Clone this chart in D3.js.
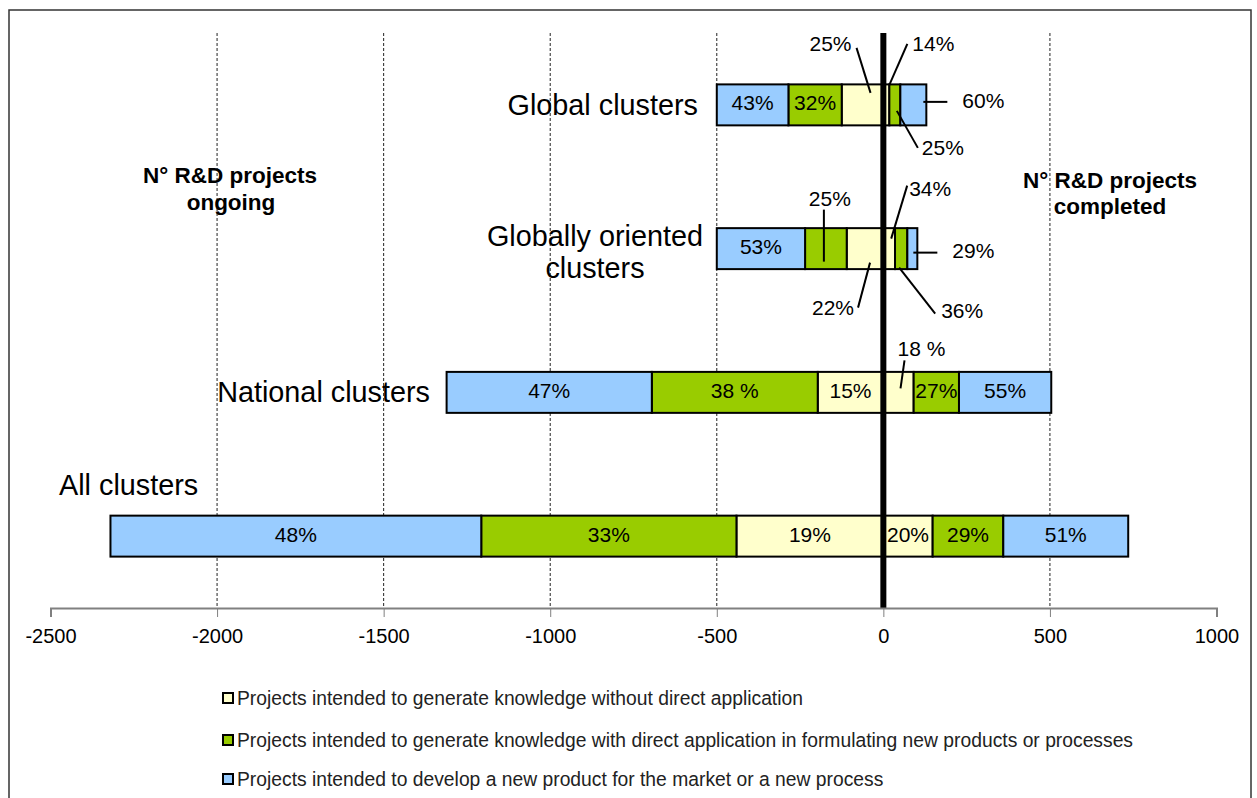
<!DOCTYPE html>
<html>
<head>
<meta charset="utf-8">
<script src="https://cdn.jsdelivr.net/npm/d3@7"></script>
<style>
  body { margin: 0; background: #fff; }
  svg { display: block; font-family: "Liberation Sans", Arial, sans-serif; }
</style>
</head>
<body>
<div id="chart"></div>
<script>
// chart data
var categories = ["Global clusters", "Globally oriented clusters", "National clusters", "All clusters"];
var seriesNames = [
  "Projects intended to generate knowledge without direct application",
  "Projects intended to generate knowledge with direct application in formulating new products or processes",
  "Projects intended to develop a new product for the market or a new process"
];
// ongoing projects (drawn to the left of zero), order: knowledge, applied, product
var ongoingKnowledge = [125, 110, 197, 441];
var ongoingApplied = [160, 125, 498, 766];
var ongoingProduct = [215, 265, 616, 1113];
// completed projects (drawn to the right of zero)
var completedKnowledge = [18, 35, 91, 148];
var completedApplied = [33, 37, 136, 212];
var completedProduct = [78, 30, 277, 375];
// percentage labels
var ongoingKnowledgePct = ["25%", "22%", "15%", "19%"];
var ongoingAppliedPct = ["32%", "25%", "38 %", "33%"];
var ongoingProductPct = ["43%", "53%", "47%", "48%"];
var completedKnowledgePct = ["14%", "34%", "18 %", "20%"];
var completedAppliedPct = ["25%", "36%", "27%", "29%"];
var completedProductPct = ["60%", "29%", "55%", "51%"];
var xTicks = [-2500, -2000, -1500, -1000, -500, 0, 500, 1000];

var colors = ["#FFFFCC", "#99CC00", "#99CCFF"];

var svgWidth = 1257;
var svgHeight = 798;

var svg = d3.select("#chart").append("svg")
  .attr("width", svgWidth)
  .attr("height", svgHeight);

// outer frame
svg.append("rect")
  .attr("x", 9).attr("y", 10)
  .attr("width", 1242).attr("height", 800)
  .attr("fill", "none")
  .attr("stroke", "#333")
  .attr("stroke-width", 1.5);

var plotTop = 33, plotBottom = 608;

var x = d3.scaleLinear().domain([-2500, 1000]).range([50.5, 1216.5]);
var y = d3.scaleBand().domain(categories).range([plotTop, plotBottom])
  .paddingInner(0.715).paddingOuter(0.3575);

// dashed gridlines
svg.append("g").selectAll("line")
  .data(xTicks.filter(function (d) { return d !== -2500 && d !== 0 && d !== 1000; }))
  .enter().append("line")
  .attr("x1", function (d) { return x(d); })
  .attr("x2", function (d) { return x(d); })
  .attr("y1", plotTop).attr("y2", plotBottom)
  .attr("stroke", "#222")
  .attr("stroke-width", 1)
  .attr("stroke-dasharray", "3,2");

// build the segments
var segments = [];
categories.forEach(function (c, i) {
  var left = [ongoingKnowledge[i], ongoingApplied[i], ongoingProduct[i]];
  var leftPct = [ongoingKnowledgePct[i], ongoingAppliedPct[i], ongoingProductPct[i]];
  var right = [completedKnowledge[i], completedApplied[i], completedProduct[i]];
  var rightPct = [completedKnowledgePct[i], completedAppliedPct[i], completedProductPct[i]];
  var acc = 0;
  left.forEach(function (v, k) {
    segments.push({ cat: c, side: "L", k: k, x0: -(acc + v), x1: -acc, pct: leftPct[k] });
    acc += v;
  });
  acc = 0;
  right.forEach(function (v, k) {
    segments.push({ cat: c, side: "R", k: k, x0: acc, x1: acc + v, pct: rightPct[k] });
    acc += v;
  });
});

svg.append("g").selectAll("rect")
  .data(segments)
  .enter().append("rect")
  .attr("x", function (d) { return x(d.x0); })
  .attr("y", function (d) { return y(d.cat); })
  .attr("width", function (d) { return x(d.x1) - x(d.x0); })
  .attr("height", y.bandwidth())
  .attr("fill", function (d) { return colors[d.k]; })
  .attr("stroke", "#000")
  .attr("stroke-width", 2);

// callouts for small segments: offsets (px) from the segment centre
var callouts = {
  "Global clusters|L|0": { a: [8, -12], b: [-6, -57], t: [-32, -61] },
  "Global clusters|R|0": { a: [3, -20], b: [21, -61], t: [47, -61] },
  "Global clusters|R|1": { a: [2, 6], b: [23, 43], t: [48, 43] },
  "Global clusters|R|2": { a: [10, -3], b: [34, -3], t: [70, -4] },
  "Globally oriented clusters|L|1": { a: [-2, 13], b: [-2, -39], t: [4, -50] },
  "Globally oriented clusters|L|0": { a: [5, 14], b: [-7, 59], t: [-32, 59] },
  "Globally oriented clusters|R|0": { a: [2, -10], b: [18, -63], t: [41, -60] },
  "Globally oriented clusters|R|1": { a: [-2, 19], b: [34, 65], t: [61, 62] },
  "Globally oriented clusters|R|2": { a: [1, 4], b: [25, 4], t: [61, 2] },
  "National clusters|R|0": { a: [2, -4], b: [6, -32], t: [23, -44] }
};

var labelGroup = svg.append("g");
segments.forEach(function (d) {
  var cx = (x(d.x0) + x(d.x1)) / 2;
  var cy = y(d.cat) + y.bandwidth() / 2;
  var co = callouts[d.cat + "|" + d.side + "|" + d.k];
  if (co) {
    labelGroup.append("line")
      .attr("x1", cx + co.a[0]).attr("y1", cy + co.a[1])
      .attr("x2", cx + co.b[0]).attr("y2", cy + co.b[1])
      .attr("stroke", "#000").attr("stroke-width", 2);
    labelGroup.append("text")
      .attr("x", cx + co.t[0]).attr("y", cy + co.t[1])
      .attr("text-anchor", "middle")
      .attr("dominant-baseline", "central")
      .style("font-size", "21px")
      .text(d.pct);
  } else {
    labelGroup.append("text")
      .attr("x", cx).attr("y", cy - 2)
      .attr("text-anchor", "middle")
      .attr("dominant-baseline", "central")
      .style("font-size", "21px")
      .text(d.pct);
  }
});

// zero line
svg.append("line")
  .attr("x1", x(0)).attr("x2", x(0))
  .attr("y1", plotTop).attr("y2", plotBottom)
  .attr("stroke", "#000")
  .attr("stroke-width", 6);

// x axis
var axis = svg.append("g")
  .attr("transform", "translate(0," + plotBottom + ")")
  .call(d3.axisBottom(x).tickValues(xTicks).tickSize(9).tickPadding(12)
    .tickFormat(function (d) { return String(d); }));
axis.select(".domain").attr("stroke", "#808080").attr("stroke-width", 2);
axis.selectAll(".tick line").attr("stroke", "#808080").attr("stroke-width", 1);
axis.selectAll(".tick text")
  .attr("fill", "#000")
  .style("font-size", "20px")
  .style("font-family", "'Liberation Sans', Arial, sans-serif");

// category labels
var catLabel = svg.append("g").style("font-size", "28.8px").attr("fill", "#000");
catLabel.append("text")
  .attr("x", 698).attr("y", y(categories[0]) + y.bandwidth() / 2)
  .attr("text-anchor", "end").attr("dominant-baseline", "central")
  .text("Global clusters");
catLabel.append("text")
  .attr("x", 595).attr("y", 236)
  .attr("text-anchor", "middle").attr("dominant-baseline", "central")
  .text("Globally oriented");
catLabel.append("text")
  .attr("x", 595).attr("y", 268)
  .attr("text-anchor", "middle").attr("dominant-baseline", "central")
  .text("clusters");
catLabel.append("text")
  .attr("x", 430).attr("y", y(categories[2]) + y.bandwidth() / 2)
  .attr("text-anchor", "end").attr("dominant-baseline", "central")
  .text("National clusters");
catLabel.append("text")
  .attr("x", 59).attr("y", 485)
  .attr("text-anchor", "start").attr("dominant-baseline", "central")
  .text("All clusters");

// side annotations
var note = svg.append("g")
  .style("font-size", "22.5px")
  .style("font-weight", "bold")
  .attr("text-anchor", "middle")
  .attr("dominant-baseline", "central");
note.append("text").attr("x", 230).attr("y", 175).text("N° R&D projects");
note.append("text").attr("x", 231).attr("y", 202).text("ongoing");
note.append("text").attr("x", 1110).attr("y", 180).text("N° R&D projects");
note.append("text").attr("x", 1110).attr("y", 206).text("completed");

// legend
var legend = svg.append("g").selectAll("g")
  .data(seriesNames)
  .enter().append("g")
  .attr("transform", function (d, i) { return "translate(223," + [698, 740, 779][i] + ")"; });
legend.append("rect")
  .attr("x", 0).attr("y", -5)
  .attr("width", 10).attr("height", 10)
  .attr("fill", function (d, i) { return colors[i]; })
  .attr("stroke", "#000")
  .attr("stroke-width", 2);
legend.append("text")
  .attr("x", 14).attr("y", 0)
  .attr("dominant-baseline", "central")
  .attr("fill", "#222")
  .style("font-size", "19.3px")
  .text(function (d) { return d; });
</script>
</body>
</html>
